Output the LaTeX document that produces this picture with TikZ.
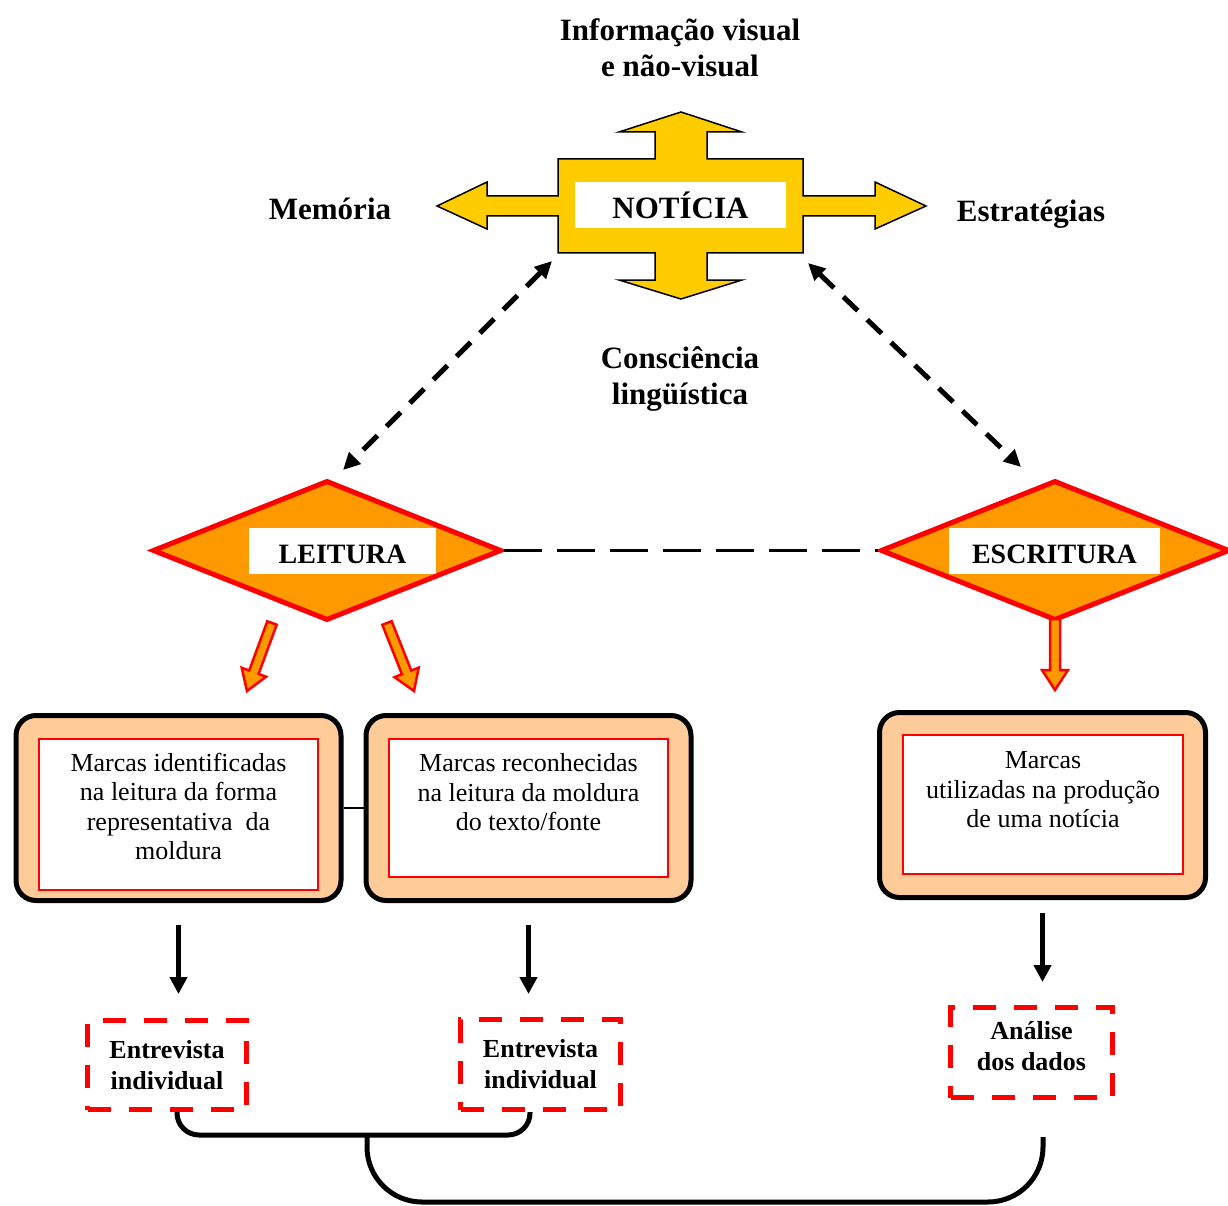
\documentclass[tikz,border=0pt]{standalone}
\usepackage{fontspec}
\setmainfont{Liberation Serif}
\usepackage{tikz}
\usetikzlibrary{shapes.geometric,arrows.meta,calc}

\definecolor{gold}{HTML}{FFCC00}
\definecolor{orangefill}{HTML}{FF9900}
\definecolor{peach}{HTML}{FFCC99}

% thick orange arrow with red outline, from #1 to #2
\newcommand{\blockarrow}[2]{%
  \coordinate (ba-h) at ($#2!20pt!#1$);
  \draw[blockarr] ($#1!5pt!90:#2$) -- ($(ba-h)!5pt!90:#2$) -- ($(ba-h)!13pt!90:#2$) -- #2
    -- ($(ba-h)!13pt!-90:#2$) -- ($(ba-h)!5pt!-90:#2$) -- ($#1!5pt!-90:#2$) -- cycle;}

\begin{document}
\begin{tikzpicture}[x=1pt, y=-1pt,
        labelnode/.style={font=\fontsize{31}{36}\selectfont\bfseries, align=center, inner sep=0pt},
        whitetag/.style={fill=white, inner sep=0pt, minimum height=46pt, text depth=0pt, font=\fontsize{28}{32}\selectfont\bfseries},
        diamondnode/.style={diamond, draw=red, fill=orangefill, line width=5pt, inner sep=0pt, minimum width=349pt, minimum height=140pt},
        framenode/.style={draw=black, fill=peach, line width=5pt, rounded corners=20pt, minimum width=325pt, minimum height=185pt},
        marcasnode/.style={draw=red, fill=white, line width=2pt, align=center, inner sep=0pt, font=\fontsize{26}{29.5}\selectfont},
        dashbox/.style={draw=red, line width=5pt, dash pattern=on 23pt off 18pt, align=center, inner sep=0pt, font=\fontsize{26}{31}\selectfont\bfseries},
        dashlink/.style={line width=5pt, dash pattern=on 20pt off 13pt, {Triangle[length=17pt,width=16pt]}-{Triangle[length=17pt,width=16pt]}},
        downarrow/.style={line width=5pt, -{Triangle[length=17pt,width=17pt]}},
        blockarr/.style={draw=red, fill=orangefill, line width=2.5pt},
        bracket/.style={line width=5pt, rounded corners=22pt}
        ]
    \useasboundingbox (0,0) rectangle (1228,1206);

    % cross round the news item
    \draw[fill=gold, line width=1.5pt] (558,159) -- (655,159) -- (655,132) -- (619,132) -- (681,112) -- (742,132) -- (707,132) -- (707,159)
        -- (803,159) -- (803,196) -- (875,196) -- (875,182) -- (926,206) -- (875,229) -- (875,216) -- (803,216) -- (803,253)
        -- (707,253) -- (707,280) -- (742,280) -- (681,299) -- (619,280) -- (655,280) -- (655,253)
        -- (558,253) -- (558,216) -- (487,216) -- (487,229) -- (437,206) -- (487,182) -- (487,196) -- (558,196) -- cycle;
    \coordinate (nsw) at (558,253);
    \coordinate (nse) at (803,253);
    \node[whitetag, minimum width=211pt, text height=28pt, font=\fontsize{31}{36}\selectfont\bfseries] (noticia) at (680.5,205) {NOTÍCIA};

    \node[labelnode, anchor=north] (infovis) at (680,18.6) {Informação visual\\e não-visual};
    \node[labelnode, anchor=base] (memoria) at (330,220) {Memória};
    \node[labelnode, anchor=base] (estrategias) at (1031,222) {Estratégias};
    \node[labelnode, anchor=north] (consciencia) at (680,346.5) {Consciência\\lingüística};

    % reading and writing
    \node[diamondnode] (leitura) at (327,550.5) {};
    \node[diamondnode] (escritura) at (1055,550.5) {};
    \node[whitetag, minimum width=187pt, text height=24pt] (leitlab) at (342.5,551) {LEITURA};
    \node[whitetag, minimum width=211pt, text height=24pt] (escrlab) at (1054.5,551) {ESCRITURA};

    \draw[dashlink] ([shift={(-6,8)}]nsw) -- ([shift={(16,-8)}]leitura.north);
    \draw[dashlink] ([shift={(5,10)}]nse) -- ([shift={(-34,-11)}]escritura.north);
    \draw[line width=3pt, dash pattern=on 38pt off 15pt] (leitura.east) -- (escritura.west);

    \coordinate (la1) at (272,623);
    \coordinate (la2) at (247,691);
    \coordinate (ra1) at (387,623);
    \coordinate (ra2) at (414,691);
    \coordinate (ea1) at (1055,619);
    \coordinate (ea2) at (1055,690);
    \blockarrow{(la1)}{(la2)}
    \blockarrow{(ra1)}{(ra2)}
    \blockarrow{(ea1)}{(ea2)}

    % marks
    \node[framenode] (frameA) at (178.5,808) {};
    \node[framenode] (frameB) at (528.5,808) {};
    \node[framenode, minimum width=326pt] (frameC) at (1042.5,805) {};
    \node[marcasnode, minimum width=279pt, minimum height=151pt] (marcasA) at (178.5,814.5)
        {Marcas identificadas\\na leitura da forma\\representativa~ da\\moldura\\[-13.5pt]\mbox{}};
    \node[marcasnode, minimum width=279pt, minimum height=138pt] (marcasB) at (528.5,808)
        {Marcas reconhecidas\\na leitura da moldura\\do texto/fonte\\[2pt]\mbox{}};
    \node[marcasnode, minimum width=280pt, minimum height=139pt] (marcasC) at (1043,804.5)
        {Marcas\\utilizadas na produção\\de uma notícia\\\mbox{}};
    \draw[line width=2pt] (frameA.east) -- (frameB.west);

    % interviews and analysis
    \node[dashbox, minimum width=159pt, minimum height=89pt] (entA) at (167,1065) {Entrevista\\individual};
    \node[dashbox, minimum width=160pt, minimum height=90pt] (entB) at (540.5,1064.5) {Entrevista\\individual};
    \node[dashbox, minimum width=162pt, minimum height=90pt] (analise) at (1031.5,1052.5) {Análise\\dos dados\\[-17pt]\mbox{}};

    \draw[downarrow, shorten <=22pt, shorten >=24pt] (frameA.south) -- (frameA.south |- entA.north);
    \draw[downarrow, shorten <=22pt, shorten >=23pt] (frameB.south) -- (frameB.south |- entB.north);
    \draw[downarrow, shorten <=13pt, shorten >=23pt] (frameC.south) -- (frameC.south |- analise.north);

    \draw[bracket] ([xshift=10pt]entA.south) -- ++(0,23) -| ([xshift=-10.5pt]entB.south);
    \coordinate (joint) at (367,1135);
    \coordinate (dadosend) at (1043,1137);
    \draw[bracket, rounded corners=55pt] (joint) -- ++(0,67) -| (dadosend);
\end{tikzpicture}
\end{document}
